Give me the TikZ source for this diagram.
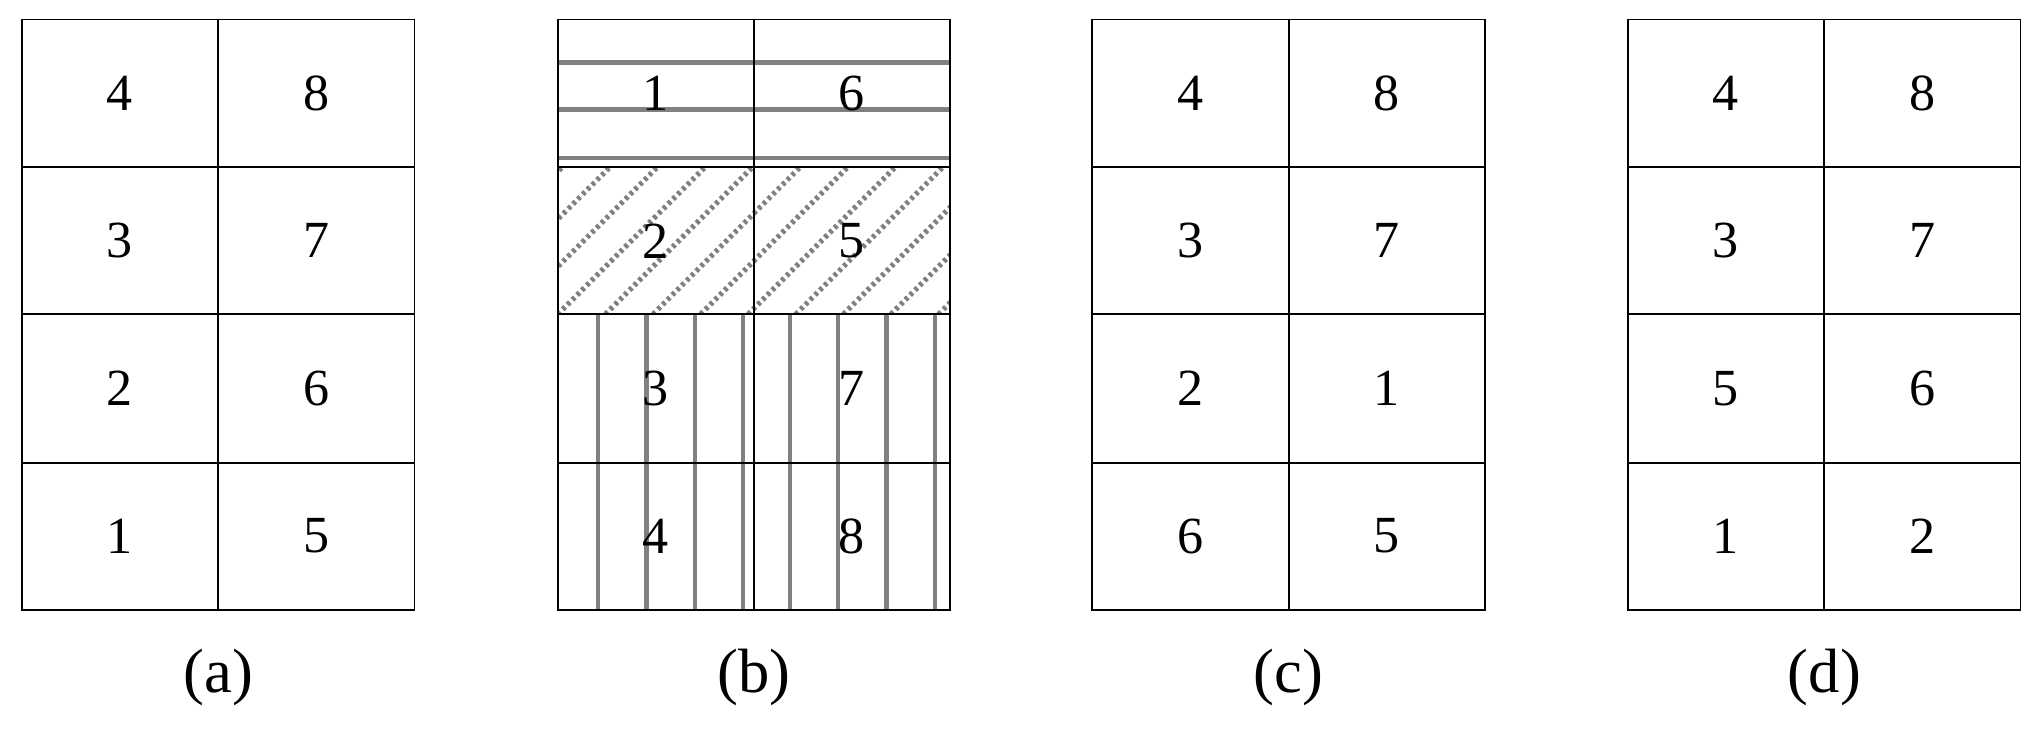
\documentclass[tikz,border=0pt]{standalone}
\usepackage{fontspec}
\setmainfont{Liberation Serif}
\begin{document}
\begin{tikzpicture}[x=0.5pt,y=-0.5pt,
  grid/.style={draw=black,line width=0.7pt},
  hatch/.style={draw=gray,line width=1.6pt},
  dia/.style={draw=gray,line width=2pt,dash pattern=on 1.3pt off 1.3pt},
  num/.style={font=\fontsize{20}{22}\selectfont},
  lab/.style={font=\fontsize{24}{26}\selectfont}]
\useasboundingbox (0,0) rectangle (1568,562);
% panel b hatching
\begin{scope}
\clip (428,15) rectangle (729,128);
\foreach \yy in {48,84,121} \draw[hatch] (428,\yy) -- (729,\yy);
\end{scope}
\begin{scope}
\clip (428,128) rectangle (729,241);
\foreach \k in {-4,...,9} \draw[dia] (428+\k*36.5,241) -- (428+\k*36.5+113,128);
\end{scope}
\foreach \xx in {459,496,533,570,606,643,680,717} \draw[hatch] (\xx,241) -- (\xx,468);
% grids
\foreach \x/\p/\nums in {17/a/{4,8,3,7,2,6,1,5},428/b/{1,6,2,5,3,7,4,8},838/c/{4,8,3,7,2,1,6,5},1249/d/{4,8,3,7,5,6,1,2}}{
  \draw[grid] (\x,15) rectangle (\x+301,468);
  \draw[grid] (\x+150.5,15) -- (\x+150.5,468);
  \foreach \yy in {128,241,355} \draw[grid] (\x,\yy) -- (\x+301,\yy);
  \foreach \n [count=\i from 0] in \nums {
    \pgfmathsetmacro{\cx}{\x+75+150.5*mod(\i,2)}
    \pgfmathsetmacro{\cy}{71.5+113.25*floor(\i/2)}
    \node[num] (n\p\i) at (\cx,\cy) {\n};
  }
  \node[lab] (l\p) at (\x+150.5,520) {(\p)};
}
\end{tikzpicture}
\end{document}
